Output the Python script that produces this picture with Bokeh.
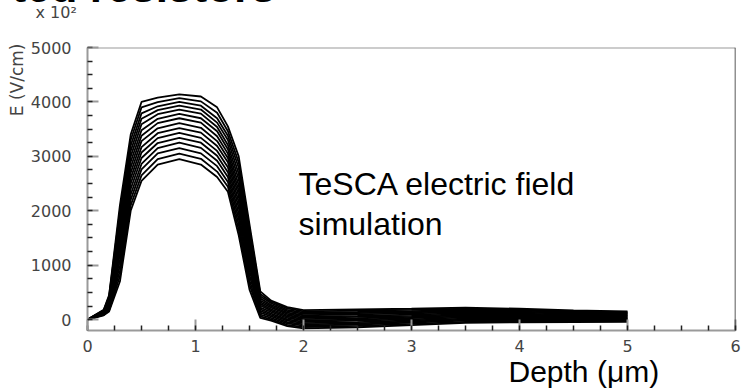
from math import pi
from bokeh.plotting import figure
from bokeh.models import Label, Span, SingleIntervalTicker, Range1d, Title
from bokeh.embed import file_html
from bokeh.resources import INLINE

# depth sample points (um)
depth_um = [0.0, 0.15, 0.2, 0.3, 0.4, 0.5, 0.65, 0.85, 1.05, 1.2, 1.3, 1.4, 1.5, 1.6,
            1.7, 1.85, 2.0, 2.5, 3.0, 3.5, 4.0, 4.5, 5.0]

# electric field curves (V/cm), lowest bias to highest bias
e_curve_01 = [0, 80, 150, 700, 2000, 2550, 2850, 2950, 2850, 2620, 2350, 1550, 550, 30, -20, -120, -160, -140, -100, -60, -50, -45, -40]
e_curve_02 = [0, 85, 170, 800, 2100, 2650, 2950, 3050, 2955, 2720, 2440, 1650, 640, 60, 5, -95, -136, -115, -80, -40, -32, -30, -26]
e_curve_03 = [0, 95, 195, 900, 2200, 2760, 3055, 3150, 3055, 2820, 2530, 1750, 720, 90, 30, -70, -112, -90, -55, -20, -15, -15, -13]
e_curve_04 = [0, 100, 215, 1000, 2300, 2860, 3150, 3250, 3155, 2920, 2620, 1850, 810, 130, 60, -45, -88, -70, -35, 0, 5, 1, 0]
e_curve_05 = [0, 110, 235, 1100, 2400, 2970, 3245, 3340, 3250, 3010, 2710, 1950, 900, 160, 85, -20, -64, -45, -15, 20, 22, 16, 14]
e_curve_06 = [0, 115, 255, 1200, 2500, 3070, 3335, 3430, 3340, 3100, 2800, 2060, 980, 190, 110, 5, -40, -20, 5, 40, 40, 32, 27]
e_curve_07 = [0, 125, 280, 1300, 2600, 3170, 3425, 3520, 3435, 3190, 2890, 2160, 1070, 220, 140, 30, -16, 0, 30, 60, 57, 48, 41]
e_curve_08 = [0, 130, 300, 1400, 2700, 3280, 3515, 3610, 3525, 3280, 2970, 2270, 1150, 260, 165, 55, 8, 25, 50, 80, 75, 63, 55]
e_curve_09 = [0, 135, 320, 1500, 2800, 3380, 3610, 3700, 3620, 3370, 3050, 2370, 1240, 290, 190, 80, 32, 50, 70, 100, 93, 78, 68]
e_curve_10 = [0, 145, 345, 1600, 2900, 3480, 3690, 3780, 3700, 3460, 3130, 2470, 1320, 320, 220, 105, 56, 70, 90, 120, 110, 93, 82]
e_curve_11 = [0, 150, 365, 1700, 3000, 3590, 3775, 3860, 3785, 3540, 3210, 2580, 1410, 350, 245, 130, 80, 95, 115, 140, 128, 109, 95]
e_curve_12 = [0, 160, 385, 1800, 3100, 3690, 3850, 3930, 3860, 3620, 3300, 2680, 1500, 390, 270, 155, 104, 120, 135, 160, 147, 124, 109]
e_curve_13 = [0, 165, 405, 1900, 3200, 3790, 3920, 4000, 3930, 3700, 3380, 2790, 1580, 430, 300, 180, 128, 140, 155, 180, 165, 140, 122]
e_curve_14 = [0, 170, 430, 2000, 3300, 3900, 3995, 4070, 4010, 3800, 3460, 2890, 1670, 470, 325, 205, 152, 165, 180, 200, 183, 155, 136]
e_curve_15 = [0, 180, 450, 2100, 3400, 4000, 4080, 4140, 4100, 3900, 3550, 3000, 1750, 520, 350, 230, 176, 190, 200, 220, 200, 170, 150]

curves = [e_curve_01, e_curve_02, e_curve_03, e_curve_04, e_curve_05,
          e_curve_06, e_curve_07, e_curve_08, e_curve_09, e_curve_10,
          e_curve_11, e_curve_12, e_curve_13, e_curve_14, e_curve_15]

x_ticks_interval = 1
y_ticks_interval = 1000

p = figure(width=743, height=391, output_backend="svg", toolbar_location=None,
           x_range=Range1d(0, 6), y_range=Range1d(-200, 5000),
           min_border_left=87, min_border_right=8, min_border_top=47, min_border_bottom=61)
p.outline_line_color = None
p.xgrid.visible = False
p.ygrid.visible = False
p.background_fill_color = "white"
p.border_fill_color = "white"

p.multi_line(xs=[depth_um] * len(curves), ys=curves, line_color="black", line_width=1.8)

p.xaxis.ticker = SingleIntervalTicker(interval=x_ticks_interval, num_minor_ticks=4)
p.yaxis.ticker = SingleIntervalTicker(interval=y_ticks_interval, num_minor_ticks=4)

for ax in (p.xaxis[0], p.yaxis[0]):
    ax.axis_line_color = "#9a9a9a"
    ax.axis_line_width = 2
    ax.major_tick_in = 11
    ax.major_tick_out = 0
    ax.major_tick_line_color = "#9a9a9a"
    ax.major_tick_line_width = 2
    ax.minor_tick_in = 5
    ax.minor_tick_out = 0
    ax.minor_tick_line_color = "#222222"
    ax.minor_tick_line_width = 1.5
    ax.major_label_text_font = "DejaVu Sans"
    ax.major_label_text_font_size = "16px"
    ax.major_label_text_color = "#444444"
p.xaxis.major_label_standoff = 9
p.yaxis.major_label_standoff = 16

p.add_layout(Span(location=5000, dimension="width", line_color="#9a9a9a", line_width=2))
p.add_layout(Span(location=6, dimension="height", line_color="#222222", line_width=1.5))

# texts inside the frame
p.add_layout(Label(x=1.954, y=2500, text="TeSCA electric field", text_align="left",
                   text_baseline="alphabetic", text_font="Liberation Sans", text_font_size="32px",
                   text_color="black"))
p.add_layout(Label(x=1.954, y=1765, text="simulation", text_align="left",
                   text_baseline="alphabetic", text_font="Liberation Sans", text_font_size="32px",
                   text_color="black"))

# texts outside the frame, as side-panel titles
p.add_layout(Title(text="x 10\u00b2\n \n ", align="left", offset=-52, vertical_align="top", standoff=-28,
                   text_font="DejaVu Sans", text_font_size="16px", text_font_style="normal",
                   text_color="#444444"), "above")
p.add_layout(Title(text="ted resistors", align="left", offset=-76, vertical_align="top", standoff=-109,
                   text_font="Liberation Sans", text_font_size="44px", text_font_style="bold",
                   text_color="black"), "above")
p.add_layout(Title(text="E (V/cm)", align="right", offset=-4, vertical_align="middle", standoff=0,
                   text_font="DejaVu Sans", text_font_size="17px", text_font_style="normal",
                   text_color="#444444"), "left")
p.add_layout(Title(text="Depth (\u03bcm)", align="left", offset=421, vertical_align="bottom", standoff=-4,
                   text_font="Liberation Sans", text_font_size="30px", text_font_style="normal",
                   text_color="black"), "below")

open("out.html", "w").write(file_html(p, INLINE))
